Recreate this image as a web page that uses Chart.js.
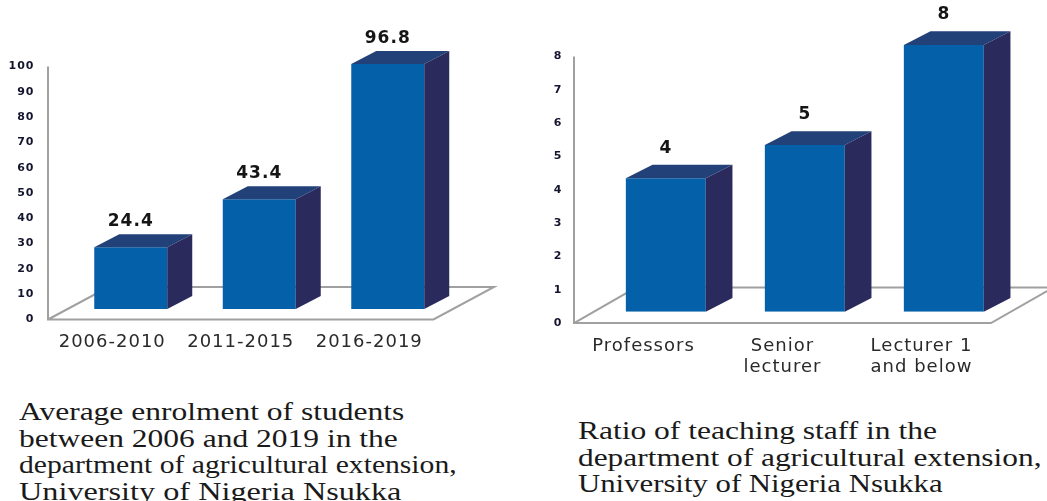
<!DOCTYPE html>
<html lang="en">
<head>
  <meta charset="UTF-8">
  <title>Agricultural extension department charts</title>
  <script src="https://cdn.jsdelivr.net/npm/chart.js"></script>
  <style>
    html, body { margin: 0; padding: 0; background: #fff; }
    body { position: relative; width: 1047px; height: 501px; overflow: hidden; }
    canvas { position: absolute; top: 0; }
    #enrolChart { left: 0; }
    #staffChart { left: 530px; }
    .caption { position: absolute; font-family: "Liberation Serif", serif; font-size: 25px; line-height: 26.5px; color: #1a1a1a; white-space: nowrap; }
    .caption span { display: block; transform-origin: left top; }
    #enrolCaption { left: 19px; top: 399px; }
    #staffCaption { left: 578px; top: 418px; }
  </style>
</head>
<body>
  <canvas id="enrolChart" width="530" height="390"></canvas>
  <canvas id="staffChart" width="517" height="390"></canvas>
  <div class="caption" id="enrolCaption">
    <span style="transform: scaleX(1.26)">Average enrolment of students</span>
    <span style="transform: scaleX(1.26)">between 2006 and 2019 in the</span>
    <span style="transform: scaleX(1.185)">department of agricultural extension,</span>
    <span style="transform: scaleX(1.29)">University of Nigeria Nsukka</span>
  </div>
  <div class="caption" id="staffCaption">
    <span style="transform: scaleX(1.26)">Ratio of teaching staff in the</span>
    <span style="transform: scaleX(1.255)">department of agricultural extension,</span>
    <span style="transform: scaleX(1.23)">University of Nigeria Nsukka</span>
  </div>

  <script>
    const enrolLabels = ["2006-2010", "2011-2015", "2016-2019"];
    const enrolValues = [24.4, 43.4, 96.8];
    const enrolMax = 100;
    const enrolStep = 10;

    const staffLabels = ["Professors", ["Senior", "lecturer"], ["Lecturer 1", "and below"]];
    const staffValues = [4, 5, 8];
    const staffMax = 8;
    const staffStep = 1;

    const FRONT = "#0360a9";
    const SIDE = "#2a2a5c";
    const TOP = "#224179";
    const AXIS = "#a0a0a0";

    // fake 3D: depth faces, floor and value labels are added around the real bars
    const fake3d = {
      id: "fake3d",
      beforeDraw(chart, args, o) {
        chart.ctx.letterSpacing = "1px";
      },
      beforeDatasetsDraw(chart, args, o) {
        const ctx = chart.ctx;
        const left = chart.chartArea.left - o.axisShiftX;
        const right = chart.chartArea.right - o.axisShiftX;
        const y0 = chart.scales.y.getPixelForValue(0) + o.axisShiftY;
        const yTop = chart.scales.y.getPixelForValue(chart.scales.y.max) + o.axisShiftY;
        ctx.save();
        ctx.strokeStyle = AXIS;
        ctx.lineWidth = 2;
        ctx.beginPath();
        ctx.moveTo(left, yTop);
        ctx.lineTo(left, y0);
        ctx.lineTo(right, y0);
        ctx.lineTo(right + o.floorX, y0 - o.floorY);
        ctx.lineTo(left + o.floorX, y0 - o.floorY);
        ctx.lineTo(left, y0);
        ctx.stroke();
        ctx.restore();
      },
      afterDatasetsDraw(chart, args, o) {
        const ctx = chart.ctx;
        ctx.save();
        chart.getDatasetMeta(0).data.forEach((bar, i) => {
          const x1 = bar.x - bar.width / 2;
          const x2 = bar.x + bar.width / 2;
          ctx.fillStyle = TOP;
          ctx.beginPath();
          ctx.moveTo(x1, bar.y);
          ctx.lineTo(x1 + o.depthX, bar.y - o.depthY);
          ctx.lineTo(x2 + o.depthX, bar.y - o.depthY);
          ctx.lineTo(x2, bar.y);
          ctx.closePath();
          ctx.fill();
          ctx.fillStyle = SIDE;
          ctx.beginPath();
          ctx.moveTo(x2, bar.y);
          ctx.lineTo(x2 + o.depthX, bar.y - o.depthY);
          ctx.lineTo(x2 + o.depthX, bar.base - o.depthY);
          ctx.lineTo(x2, bar.base);
          ctx.closePath();
          ctx.fill();
          ctx.fillStyle = "#151515";
          ctx.font = "bold 17px 'DejaVu Sans'";
          ctx.textAlign = "center";
          ctx.textBaseline = "middle";
          ctx.fillText(chart.data.datasets[0].data[i], bar.x, bar.y - o.valueGap);
        });
        ctx.restore();
      }
    };

    function drawChart(id, labels, values, max, step, o) {
      const canvas = document.getElementById(id);
      return new Chart(canvas, {
        type: "bar",
        data: {
          labels: labels,
          datasets: [{ data: values, backgroundColor: FRONT, borderWidth: 0, categoryPercentage: 1, barPercentage: o.barShare }]
        },
        plugins: [fake3d],
        options: {
          responsive: false,
          animation: false,
          layout: { padding: { top: o.top, left: 0, right: canvas.width - o.right, bottom: 0 } },
          plugins: {
            legend: { display: false },
            tooltip: { enabled: false },
            fake3d: o
          },
          scales: {
            x: {
              grid: { display: false, drawTicks: false },
              border: { display: false },
              afterFit(scale) { scale.height = canvas.height - o.bottom; },
              ticks: {
                autoSkip: false,
                maxRotation: 0,
                padding: o.xPad,
                labelOffset: -o.axisShiftX,
                color: "#2a2a2a",
                font: { family: "DejaVu Sans", size: 18, lineHeight: o.xLine }
              }
            },
            y: {
              min: 0,
              max: max,
              grid: { display: false, drawTicks: false },
              border: { display: false },
              afterFit(scale) { scale.width = o.left; },
              ticks: {
                stepSize: step,
                padding: o.yPad,
                labelOffset: o.axisShiftY,
                color: "#14142e",
                font: { family: "DejaVu Sans", size: 11, weight: "bold" }
              }
            }
          }
        }
      });
    }

    drawChart("enrolChart", enrolLabels, enrolValues, enrolMax, enrolStep, {
      left: 66.5, right: 452, top: 56, bottom: 309,
      barShare: 0.568, axisShiftX: 18.5, axisShiftY: 10.5,
      depthX: 25, depthY: 13, floorX: 60.5, floorY: 32.5,
      valueGap: 26, xPad: 23, yPad: 32, xLine: 1.17
    });

    drawChart("staffChart", staffLabels, staffValues, staffMax, staffStep, {
      left: 66.3, right: 483.3, top: 45, bottom: 311.7,
      barShare: 0.575, axisShiftX: 22.3, axisShiftY: 11.4,
      depthX: 26.7, depthY: 13.7, floorX: 62, floorY: 35.5,
      valueGap: 30, xPad: 24, yPad: 34, xLine: 1.17
    });
  </script>
</body>
</html>
